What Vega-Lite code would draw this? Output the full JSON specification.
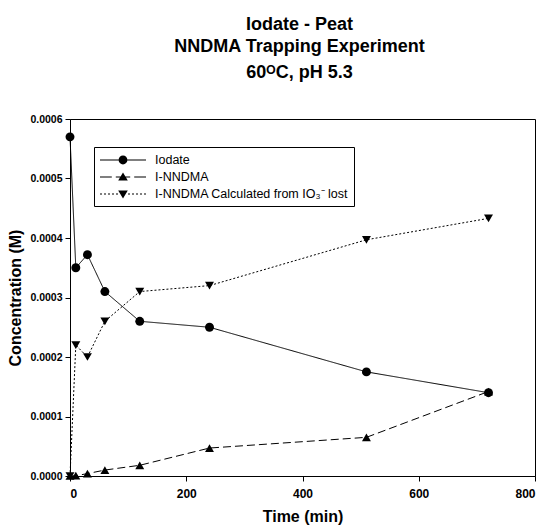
{
  "$schema": "https://vega.github.io/schema/vega-lite/v6.json",
  "width": 465,
  "height": 357,
  "autosize": "none",
  "padding": {"left": 70, "top": 119, "right": 10, "bottom": 51},
  "title": {
    "text": ["Iodate - Peat", "NNDMA Trapping Experiment"],
    "subtitle": "60ᴼC, pH 5.3",
    "font": "Liberation Sans",
    "subtitleFont": "Liberation Sans",
    "fontSize": 18,
    "subtitleFontSize": 18,
    "fontWeight": "bold",
    "subtitleFontWeight": "bold",
    "lineHeight": 21.7,
    "subtitleLineHeight": 18,
    "subtitlePadding": 8,
    "anchor": "middle",
    "dx": -3,
    "offset": 32,
    "color": "black",
    "subtitleColor": "black"
  },
  "config": {
    "view": {"stroke": "black", "strokeWidth": 1},
    "axis": {
      "domainColor": "black",
      "tickColor": "black",
      "labelColor": "black",
      "titleColor": "black",
      "labelFont": "Liberation Sans",
      "titleFont": "Liberation Sans",
      "labelFontWeight": "bold",
      "titleFontWeight": "bold",
      "grid": false
    }
  },
  "data": {
    "values": [
      {"t": 0, "c": 0.00057, "s": "Iodate"},
      {"t": 10, "c": 0.00035, "s": "Iodate"},
      {"t": 30, "c": 0.000372, "s": "Iodate"},
      {"t": 60, "c": 0.00031, "s": "Iodate"},
      {"t": 120, "c": 0.00026, "s": "Iodate"},
      {"t": 240, "c": 0.00025, "s": "Iodate"},
      {"t": 510, "c": 0.000175, "s": "Iodate"},
      {"t": 720, "c": 0.00014, "s": "Iodate"},
      {"t": 0, "c": 0.0, "s": "I-NNDMA"},
      {"t": 10, "c": 0.0000005, "s": "I-NNDMA"},
      {"t": 30, "c": 0.000004, "s": "I-NNDMA"},
      {"t": 60, "c": 0.00001, "s": "I-NNDMA"},
      {"t": 120, "c": 0.000018, "s": "I-NNDMA"},
      {"t": 240, "c": 0.000047, "s": "I-NNDMA"},
      {"t": 510, "c": 0.000065, "s": "I-NNDMA"},
      {"t": 720, "c": 0.000142, "s": "I-NNDMA"},
      {"t": 0, "c": 0.0, "s": "I-NNDMA Calculated from IO₃⁻ lost"},
      {"t": 10, "c": 0.00022, "s": "I-NNDMA Calculated from IO₃⁻ lost"},
      {"t": 30, "c": 0.0002, "s": "I-NNDMA Calculated from IO₃⁻ lost"},
      {"t": 60, "c": 0.00026, "s": "I-NNDMA Calculated from IO₃⁻ lost"},
      {"t": 120, "c": 0.00031, "s": "I-NNDMA Calculated from IO₃⁻ lost"},
      {"t": 240, "c": 0.00032, "s": "I-NNDMA Calculated from IO₃⁻ lost"},
      {"t": 510, "c": 0.000397, "s": "I-NNDMA Calculated from IO₃⁻ lost"},
      {"t": 720, "c": 0.000433, "s": "I-NNDMA Calculated from IO₃⁻ lost"}
    ]
  },
  "encoding": {
    "x": {
      "field": "t",
      "type": "quantitative",
      "scale": {"domain": [0, 800], "nice": false, "zero": true},
      "axis": {
        "title": "Time (min)",
        "values": [0, 200, 400, 600, 800],
        "labelFontSize": 12,
        "titleFontSize": 16,
        "tickSize": 5,
        "labelPadding": 7,
        "titlePadding": 9
      }
    },
    "y": {
      "field": "c",
      "type": "quantitative",
      "scale": {"domain": [0, 0.0006], "nice": false},
      "axis": {
        "title": "Concentration (M)",
        "values": [0, 0.0001, 0.0002, 0.0003, 0.0004, 0.0005, 0.0006],
        "format": ".4f",
        "labelFontSize": 10.5,
        "titleFontSize": 16,
        "tickSize": 5,
        "labelPadding": 3,
        "titlePadding": 6
      }
    }
  },
  "layer": [
    {
      "mark": {"type": "line", "color": "black", "strokeWidth": 1},
      "encoding": {
        "detail": {"field": "s"},
        "strokeDash": {
          "field": "s",
          "type": "nominal",
          "scale": {
            "domain": ["Iodate", "I-NNDMA", "I-NNDMA Calculated from IO₃⁻ lost"],
            "range": [[1, 0], [8, 4], [2, 2]]
          },
          "legend": null
        }
      }
    },
    {
      "mark": {"type": "point", "filled": true, "color": "black", "opacity": 1, "size": 80},
      "encoding": {
        "shape": {
          "field": "s",
          "type": "nominal",
          "scale": {
            "domain": ["Iodate", "I-NNDMA", "I-NNDMA Calculated from IO₃⁻ lost"],
            "range": ["circle", "triangle-up", "triangle-down"]
          },
          "legend": null
        }
      }
    },
    {
      "transform": [{"filter": "datum.t < 0"}],
      "mark": {"type": "point", "filled": true, "color": "black", "opacity": 1},
      "encoding": {
        "shape": {
          "field": "s",
          "type": "nominal",
          "scale": {
            "domain": ["Iodate", "I-NNDMA", "I-NNDMA Calculated from IO₃⁻ lost"],
            "range": [
              "M-2.875,-0.0625H2.875V0.0625H-2.875ZM0.55,0A0.55,0.55 0 1,1 -0.55,0A0.55,0.55 0 1,1 0.55,0Z",
              "M-2.875,-0.0625H-1.4V0.0625H-2.875ZM-0.9,-0.0625H0.9V0.0625H-0.9ZM1.4,-0.0625H2.875V0.0625H1.4ZM0,-0.55L0.6,0.45L-0.6,0.45Z",
              "M-2.875,-0.0625H-2.625V0.0625H-2.875ZM-2.375,-0.0625H-2.125V0.0625H-2.375ZM-1.875,-0.0625H-1.625V0.0625H-1.875ZM-1.375,-0.0625H-1.125V0.0625H-1.375ZM-0.875,-0.0625H-0.625V0.0625H-0.875ZM0.625,-0.0625H0.875V0.0625H0.625ZM1.125,-0.0625H1.375V0.0625H1.125ZM1.625,-0.0625H1.875V0.0625H1.625ZM2.125,-0.0625H2.375V0.0625H2.125ZM2.625,-0.0625H2.875V0.0625H2.625ZM0,0.55L0.6,-0.45L-0.6,-0.45Z"
            ]
          },
          "legend": {
            "title": null,
            "orient": "none",
            "legendX": 24,
            "legendY": 28,
            "strokeColor": "black",
            "fillColor": "white",
            "padding": 5,
            "symbolSize": 256,
            "symbolOffset": 16,
            "symbolStrokeWidth": 0,
            "labelFont": "Liberation Sans",
            "labelFontSize": 12.5,
            "labelColor": "black",
            "labelOffset": 24,
            "rowPadding": 2,
            "labelLimit": 400,
            "encode": {
              "symbols": {
                "update": {
                  "fill": {"value": "black"},
                  "stroke": {"value": "black"},
                  "strokeWidth": {"value": 0},
                  "opacity": {"value": 1}
                }
              }
            }
          }
        }
      }
    }
  ],
  "resolve": {"scale": {"shape": "independent"}, "legend": {"shape": "independent"}}
}
